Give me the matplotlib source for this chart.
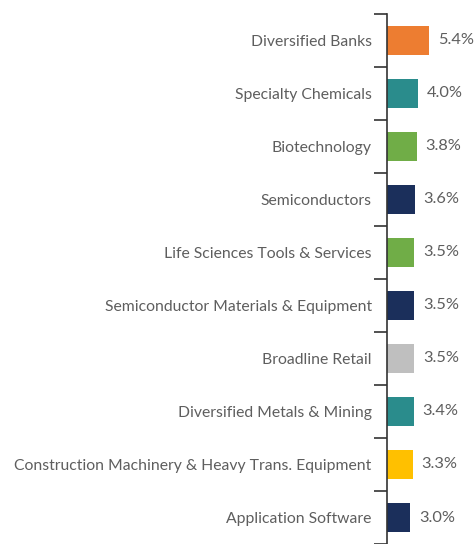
import numpy as np
from matplotlib import pyplot as plt
from matplotlib.ticker import FixedLocator

categories = ['Diversified Banks', 'Specialty Chemicals', 'Biotechnology',
              'Semiconductors', 'Life Sciences Tools & Services',
              'Semiconductor Materials & Equipment', 'Broadline Retail',
              'Diversified Metals & Mining',
              'Construction Machinery & Heavy Trans. Equipment',
              'Application Software']
weights = [5.4, 4.0, 3.8, 3.6, 3.5, 3.5, 3.5, 3.4, 3.3, 3.0]
colors = ['#ED7D31', '#2A8C8C', '#70AD47', '#1B2F5B', '#70AD47',
          '#1B2F5B', '#BFBFBF', '#2A8C8C', '#FFC000', '#1B2F5B']

plt.rcParams['font.family'] = ['Lato', 'DejaVu Sans']
text_color = '#5E5E5E'

fig = plt.figure(figsize=(4.74, 5.44), dpi=100)
ax = fig.add_axes([387/474, 0, 87/474, 530/544])

y = np.arange(len(categories))
ax.barh(y, weights, height=0.55, color=colors)
ax.set_ylim(len(categories) - 0.5, -0.5)
ax.set_xlim(0, 87/7.8)

for i, w in enumerate(weights):
    ax.text(w + 1.1, i, '%.1f%%' % w, va='center', ha='left',
            fontsize=11.8, color=text_color)

ax.set_yticks(y)
ax.set_yticklabels(categories, fontsize=11.3, color=text_color)
ax.tick_params(axis='y', which='major', length=0, pad=11)
ax.yaxis.set_minor_locator(FixedLocator(np.arange(-0.5, len(categories), 1)))
ax.tick_params(axis='y', which='minor', length=9.5, width=1.2, color='#333333')
ax.set_xticks([])

for s in ['top', 'right', 'bottom']:
    ax.spines[s].set_visible(False)
ax.spines['left'].set_color('#333333')
ax.spines['left'].set_linewidth(1.2)

fig.savefig('out.png', dpi=100)
